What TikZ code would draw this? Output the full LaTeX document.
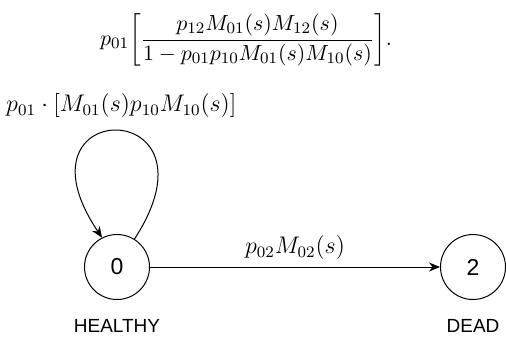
\documentclass[tikz,border=0pt]{standalone}
\usepackage{amsmath}
\usepackage{fontspec}
\setsansfont{Liberation Sans}
\usetikzlibrary{positioning,arrows.meta}

\begin{document}
\begin{tikzpicture}[x=0.5pt,y=0.5pt,
  state/.style={draw,circle,line width=0.5pt,minimum size=32.5pt,inner sep=0pt,font=\sffamily\fontsize{11.5}{13}\selectfont},
  tag/.style={font=\sffamily\fontsize{9.5}{11}\selectfont},
  arr/.style={-{Stealth[length=5.5pt,width=4.5pt]},line width=0.5pt,font=\fontsize{11.7}{14}\selectfont}
]
\useasboundingbox (0,0) rectangle (506,339);
\node[font=\fontsize{11.4}{14}\selectfont,inner sep=1pt] (eq) at (246,299) {$\displaystyle p_{01}\!\left[\frac{p_{12}M_{01}(s)M_{12}(s)}{1-p_{01}p_{10}M_{01}(s)M_{10}(s)}\right]\!.$};
\node[state] (healthy) at (117,72) {0};
\node[state] (dead) at (473,72) {2};
\node[tag,below=6pt of healthy] (hlab) {HEALTHY};
\node[tag,below=6pt of dead] (dlab) {DEAD};

\draw[arr] (healthy) -- node[above] {$p_{02}M_{02}(s)$} (dead);
\draw[arr] (healthy.58) .. controls +(57:172) and +(124:172) .. node[above,yshift=3pt,xshift=2pt] {$p_{01}\cdot[M_{01}(s)p_{10}M_{10}(s)]$} (healthy.117);
\end{tikzpicture}
\end{document}
